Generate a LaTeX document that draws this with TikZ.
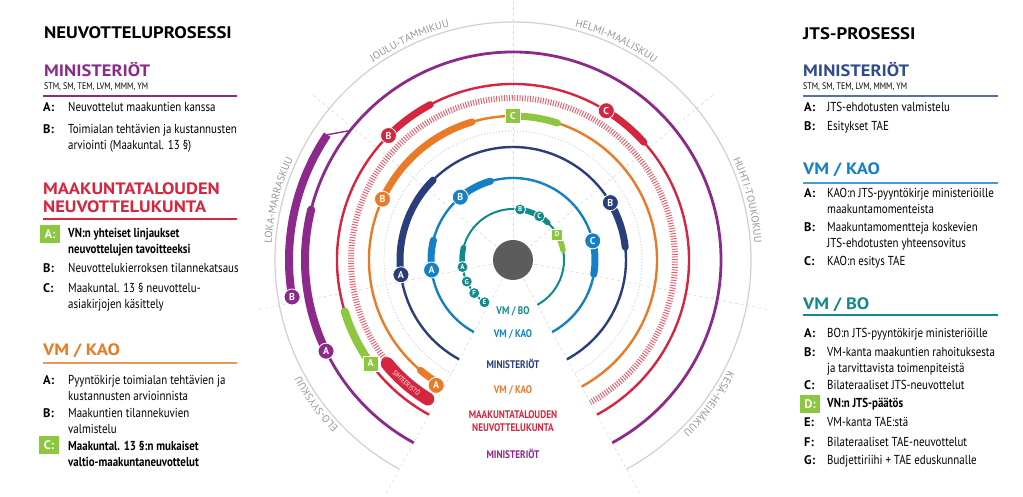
\documentclass[tikz,border=0pt]{standalone}
\usepackage{fontspec}
\setmainfont{PT Sans}
\newfontfamily\condfont{PT Sans}[FakeStretch=0.84]
\newfontfamily\widefont{PT Sans}[FakeStretch=1.12]
\newfontfamily\monthfam{PT Sans}[LetterSpace=6]
\usetikzlibrary{decorations.text}

\definecolor{purpleM}{RGB}{139,42,139}
\definecolor{redM}{RGB}{214,37,62}
\definecolor{orangeM}{RGB}{234,122,38}
\definecolor{navyJ}{RGB}{41,62,122}
\definecolor{navyH}{RGB}{46,76,140}
\definecolor{blueK}{RGB}{22,128,198}
\definecolor{tealB}{RGB}{18,138,138}
\definecolor{limeG}{RGB}{141,198,63}
\definecolor{hatchR}{RGB}{224,98,114}
\definecolor{monthG}{RGB}{208,208,208}
\definecolor{monthT}{RGB}{150,150,150}
\definecolor{diskG}{RGB}{92,92,92}

\newcommand\headfont{\widefont\bfseries\fontsize{16.7}{20}\selectfont}
\newcommand\groupfont{\widefont\bfseries\fontsize{16.5}{17.5}\selectfont}
\newcommand\itemfont{\condfont\fontsize{13}{15.5}\selectfont}
\newcommand\keyfont{\normalfont\bfseries\fontsize{12.5}{15}\selectfont}
\newcommand\subfont{\condfont\fontsize{9.5}{11}\selectfont}
\newcommand\wedgefont{\condfont\bfseries\fontsize{11}{12.5}\selectfont}
\newcommand\monthfont{\monthfam\fontsize{10.5}{12}\selectfont}
\newcommand\badgefont{\normalfont\bfseries\fontsize{10}{10}\selectfont}
\newcommand\minifont{\normalfont\bfseries\fontsize{7}{7}\selectfont}
\newcommand\barfont{\condfont\fontsize{7}{7}\selectfont}

\tikzset{
  headtxt/.style={anchor=base west, inner sep=0pt, font=\headfont},
  grouptxt/.style={anchor=base west, inner sep=0pt, font=\groupfont},
  subtxt/.style={anchor=base west, inner sep=0pt, font=\subfont},
  itemtxt/.style={anchor=base west, inner sep=0pt, font=\itemfont},
  keytxt/.style={anchor=base west, inner sep=0pt, font=\keyfont},
  greenkey/.style={fill=limeG, text=white, font=\keyfont, minimum width=20pt, minimum height=18pt, inner sep=0pt},
  ringline/.style={draw=#1, line width=2.4pt},
  thickseg/.style={draw=#1, line width=7pt, line cap=round},
  badge/.style={circle, fill=#1, draw=white, line width=0.8pt, text=white, font=\badgefont, inner sep=0pt, minimum size=16pt},
  minibadge/.style={badge=#1, minimum size=11pt, font=\minifont},
  greenbadge/.style={fill=limeG, draw=white, line width=0.6pt, text=white, font=\badgefont, inner sep=0pt, minimum size=15pt},
  minigreen/.style={greenbadge, minimum size=11pt, font=\minifont},
  monthdash/.style={draw=monthG!80, dashed, line width=0.6pt},
  wedgetxt/.style={font=\wedgefont, align=center, inner sep=0pt},
}

\begin{document}
\begin{tikzpicture}[x=1pt, y=1pt, font=\condfont]
  \useasboundingbox (-513,-237) rectangle (510,260);

  % month sectors and ring
  \foreach \a in {349,39.5,90,140.5,191}
    \draw[monthdash] (\a:22) -- (\a:262);
  \draw[monthdash] (241.5:22) -- (241.5:268);
  \draw[monthdash] (298.5:22) -- (298.5:268);
  \draw[monthG, line width=1.2pt] (241.5:238) arc[start angle=241.5, end angle=-61.5, radius=238];
  \draw[monthG, dotted, line width=1pt] (241.5:129) arc[start angle=241.5, end angle=-61.5, radius=129];

  \path[decorate, decoration={text along path, text color=monthT, text align=center,
      text={|\monthfont|JOULU-TAMMIKUU}}] (140.5:242) arc[start angle=140.5, end angle=90, radius=242];
  \path[decorate, decoration={text along path, text color=monthT, text align=center,
      text={|\monthfont|HELMI-MAALISKUU}}] (90:242) arc[start angle=90, end angle=39.5, radius=242];
  \path[decorate, decoration={text along path, text color=monthT, text align=center,
      text={|\monthfont|HUHTI-TOUKOKUU}}] (39.5:242) arc[start angle=39.5, end angle=-11, radius=242];
  \path[decorate, decoration={text along path, text color=monthT, text align=center,
      text={|\monthfont|KESÄ-HEINÄKUU}}] (-11:242) arc[start angle=-11, end angle=-61.5, radius=242];
  \path[decorate, decoration={text along path, text color=monthT, text align=center,
      text={|\monthfont|ELO-SYYSKUU}}] (241.5:242) arc[start angle=241.5, end angle=191, radius=242];
  \path[decorate, decoration={text along path, text color=monthT, text align=center,
      text={|\monthfont|LOKA-MARRASKUU}}] (191:242) arc[start angle=191, end angle=140.5, radius=242];

  % ministeriot (neuvotteluprosessi)
  \draw[ringline=purpleM, line width=2.8pt] (241.5:208) arc[start angle=241.5, end angle=-61.5, radius=208];
  \draw[thickseg=purpleM, line width=8pt] (206:208) arc[start angle=206, end angle=166, radius=208];
  \draw[purpleM, line width=8pt] (189.5:224) arc[start angle=189.5, end angle=146, radius=224];
  \draw[purpleM, line width=1.4pt] (146:224) -- (141.5:208);
  \node[badge=purpleM] (puA) at (206:208) {A};
  \node[badge=purpleM] (puB) at (189.5:224) {B};

  % maakuntatalouden neuvottelukunta
  \draw[ringline=redM] (241.5:176) arc[start angle=241.5, end angle=-61.5, radius=176];
  \draw[thickseg=limeG, line width=8pt] (216:176) arc[start angle=216, end angle=197, radius=176];
  \draw[thickseg=redM] (135:176) arc[start angle=135, end angle=118, radius=176];
  \draw[thickseg=redM] (58:176) arc[start angle=58, end angle=42, radius=176];
  \node[greenbadge] (reA) at (216:176) {A};
  \node[badge=redM] (reB) at (135:176) {B};
  \node[badge=redM] (reC) at (58:176) {C};

  \draw[hatchR, line width=6pt, dash pattern=on 1pt off 1.6pt] (221:162) arc[start angle=221, end angle=-61.5, radius=162];
  \draw[redM, line width=13pt, line cap=round] (219.5:163) arc[start angle=219.5, end angle=238.5, radius=163];
  \path[decorate, decoration={text along path, text color=white, text align=center,
      text={|\barfont|SIHTEERISTÖ}}] (219.5:165.5) arc[start angle=219.5, end angle=238.5, radius=165.5];

  % vm / kao (neuvotteluprosessi)
  \draw[ringline=orangeM] (241.5:144) arc[start angle=241.5, end angle=-61.5, radius=144];
  \draw[thickseg=orangeM] (237:144) arc[start angle=237, end angle=230, radius=144];
  \draw[thickseg=orangeM] (155:144) arc[start angle=155, end angle=106.5, radius=144];
  \draw[thickseg=limeG] (90:144) arc[start angle=90, end angle=72, radius=144];
  \node[badge=orangeM] (orA) at (238.5:147) {A};
  \node[badge=orangeM] (orB) at (155:144) {B};
  \node[greenbadge] (orC) at (90:144) {C};

  % ministeriot (jts)
  \draw[ringline=navyJ] (241.5:113) arc[start angle=241.5, end angle=-61.5, radius=113];
  \draw[thickseg=navyJ] (187.5:113) arc[start angle=187.5, end angle=135, radius=113];
  \draw[thickseg=navyJ] (30.5:113) arc[start angle=30.5, end angle=6.5, radius=113];
  \node[badge=navyJ] (naA) at (187.5:113) {A};
  \node[badge=navyJ] (naB) at (30.5:113) {B};

  % vm / kao (jts)
  \draw[ringline=blueK] (241.5:82) arc[start angle=241.5, end angle=-61.5, radius=82];
  \draw[thickseg=blueK] (187:82) arc[start angle=187, end angle=166, radius=82];
  \draw[thickseg=blueK] (130:82) arc[start angle=130, end angle=106, radius=82];
  \draw[thickseg=blueK] (13.5:82) arc[start angle=13.5, end angle=-10, radius=82];
  \node[badge=blueK] (blA) at (187:82) {A};
  \node[badge=blueK] (blB) at (130:82) {B};
  \node[badge=blueK] (blC) at (13.5:82) {C};

  % vm / bo
  \draw[ringline=tealB, line width=2pt] (236:51) arc[start angle=236, end angle=-61.5, radius=51];
  \draw[thickseg=tealB, line width=5.5pt] (181:51) arc[start angle=181, end angle=166, radius=51];
  \draw[thickseg=tealB, line width=5.5pt] (82:51) arc[start angle=82, end angle=47, radius=51];
  \draw[thickseg=limeG, line width=5.5pt] (30:51) arc[start angle=30, end angle=11, radius=51];
  \node[minibadge=tealB] (teE) at (236:51) {E};
  \node[minibadge=tealB] (teF) at (220.5:51) {F};
  \node[minibadge=tealB] (teG) at (205:51) {G};
  \node[minibadge=tealB] (teA) at (188:51) {A};
  \node[minibadge=tealB] (teB) at (82:51) {B};
  \node[minibadge=tealB] (teC) at (59:51) {C};
  \node[minigreen] (teD) at (30:51) {D};

  \node[circle, fill=diskG, minimum size=40pt, inner sep=0pt] (hub) at (0,0) {};

  % ring names in the gap
  \node[wedgetxt, text=tealB] (gBo) at (0,-51) {VM / BO};
  \node[wedgetxt, text=blueK] (gKaoJ) at (0,-74) {VM / KAO};
  \node[wedgetxt, text=navyJ] (gMinJ) at (0,-104) {MINISTERIÖT};
  \node[wedgetxt, text=orangeM] (gKaoN) at (0,-130) {VM / KAO};
  \node[wedgetxt, text=redM] (gMtn) at (0,-161) {MAAKUNTATALOUDEN\\NEUVOTTELUKUNTA};
  \node[wedgetxt, text=purpleM] (gMinN) at (0,-194) {MINISTERIÖT};

  \begin{scope}[shift={(-513,260)}, yscale=-1]
    % neuvotteluprosessi
    \node[headtxt] (lHead) at (44,39) {NEUVOTTELUPROSESSI};

    \node[grouptxt, text=purpleM] (lMin) at (44,77) {MINISTERIÖT};
    \node[subtxt] (lMinSub) at (44,90) {STM, SM, TEM, LVM, MMM, YM};
    \draw[purpleM, line width=1.4pt] (43,96) -- (237,96);
    \node[keytxt] (lMinAk) at (43,112) {A:};
    \node[itemtxt] (lMinA) at (68,112) {Neuvottelut maakuntien kanssa};
    \node[keytxt] (lMinBk) at (43,134) {B:};
    \node[itemtxt] (lMinB) at (68,134) {\parbox[t]{175pt}{Toimialan tehtävien ja kustannusten\\arviointi (Maakuntal. 13 §)}};

    \node[grouptxt, text=redM] (lMtn) at (43,195) {\parbox[t]{200pt}{MAAKUNTATALOUDEN\\NEUVOTTELUKUNTA}};
    \draw[redM, line width=1.4pt] (43,219) -- (237,219);
    \node[greenkey] (lMtnAk) at (50,234) {A:};
    \node[itemtxt] (lMtnA) at (68,238) {\parbox[t]{175pt}{\bfseries VN:n yhteiset linjaukset\\neuvottelujen tavoitteeksi}};
    \node[keytxt] (lMtnBk) at (43,273) {B:};
    \node[itemtxt] (lMtnB) at (68,273) {Neuvottelukierroksen tilannekatsaus};
    \node[keytxt] (lMtnCk) at (43,293) {C:};
    \node[itemtxt] (lMtnC) at (68,293) {\parbox[t]{175pt}{Maakuntal. 13 § neuvottelu-\\asiakirjojen käsittely}};

    \node[grouptxt, text=orangeM] (lKao) at (43,356) {VM / KAO};
    \draw[orangeM!80, line width=1.4pt] (43,363) -- (237,363);
    \node[keytxt] (lKaoAk) at (43,385) {A:};
    \node[itemtxt] (lKaoA) at (68,385) {\parbox[t]{175pt}{Pyyntökirje toimialan tehtävien ja\\kustannusten arvioinnista}};
    \node[keytxt] (lKaoBk) at (43,418) {B:};
    \node[itemtxt] (lKaoB) at (68,418) {\parbox[t]{175pt}{Maakuntien tilannekuvien\\valmistelu}};
    \node[greenkey] (lKaoCk) at (49,445) {C:};
    \node[itemtxt] (lKaoC) at (68,451) {\parbox[t]{175pt}{\bfseries Maakuntal. 13 §:n mukaiset\\valtio-maakuntaneuvottelut}};

    % jts-prosessi
    \node[headtxt] (rHead) at (803,40) {JTS-PROSESSI};

    \node[grouptxt, text=navyH] (rMin) at (803,77) {MINISTERIÖT};
    \node[subtxt] (rMinSub) at (803,90) {STM, SM, TEM, LVM, MMM, YM};
    \draw[navyH!80, line width=1.4pt] (803,96) -- (998,96);
    \node[keytxt] (rMinAk) at (804,112) {A:};
    \node[itemtxt] (rMinA) at (827,112) {JTS-ehdotusten valmistelu};
    \node[keytxt] (rMinBk) at (804,131) {B:};
    \node[itemtxt] (rMinB) at (827,131) {Esitykset TAE};

    \node[grouptxt, text=blueK] (rKao) at (803,175) {VM / KAO};
    \draw[blueK!80, line width=1.4pt] (803,183) -- (998,183);
    \node[keytxt] (rKaoAk) at (804,198) {A:};
    \node[itemtxt] (rKaoA) at (827,198) {\parbox[t]{175pt}{KAO:n JTS-pyyntökirje ministeriöille\\maakuntamomenteista}};
    \node[keytxt] (rKaoBk) at (804,232) {B:};
    \node[itemtxt] (rKaoB) at (827,232) {\parbox[t]{175pt}{Maakuntamomentteja koskevien\\JTS-ehdotusten yhteensovitus}};
    \node[keytxt] (rKaoCk) at (804,266) {C:};
    \node[itemtxt] (rKaoC) at (827,266) {KAO:n esitys TAE};

    \node[grouptxt, text=tealB] (rBo) at (803,310) {VM / BO};
    \draw[tealB!80!blueK, line width=1.4pt] (803,315) -- (998,315);
    \node[keytxt] (rBoAk) at (804,338) {A:};
    \node[itemtxt] (rBoA) at (827,338) {BO:n JTS-pyyntökirje ministeriöille};
    \node[keytxt] (rBoBk) at (804,357) {B:};
    \node[itemtxt] (rBoB) at (827,357) {\parbox[t]{175pt}{VM-kanta maakuntien rahoituksesta\\\ ja tarvittavista toimenpiteistä}};
    \node[keytxt] (rBoCk) at (804,390) {C:};
    \node[itemtxt] (rBoC) at (827,390) {Bilateraaliset JTS-neuvottelut};
    \node[greenkey] (rBoDk) at (810,404) {D:};
    \node[itemtxt] (rBoD) at (827,408) {\bfseries VN:n JTS-päätös};
    \node[keytxt] (rBoEk) at (804,427) {E:};
    \node[itemtxt] (rBoE) at (827,427) {VM-kanta TAE:stä};
    \node[keytxt] (rBoFk) at (804,447) {F:};
    \node[itemtxt] (rBoF) at (827,447) {Bilateraaliset TAE-neuvottelut};
    \node[keytxt] (rBoGk) at (804,465) {G:};
    \node[itemtxt] (rBoG) at (827,465) {Budjettiriihi + TAE eduskunnalle};
  \end{scope}
\end{tikzpicture}
\end{document}
